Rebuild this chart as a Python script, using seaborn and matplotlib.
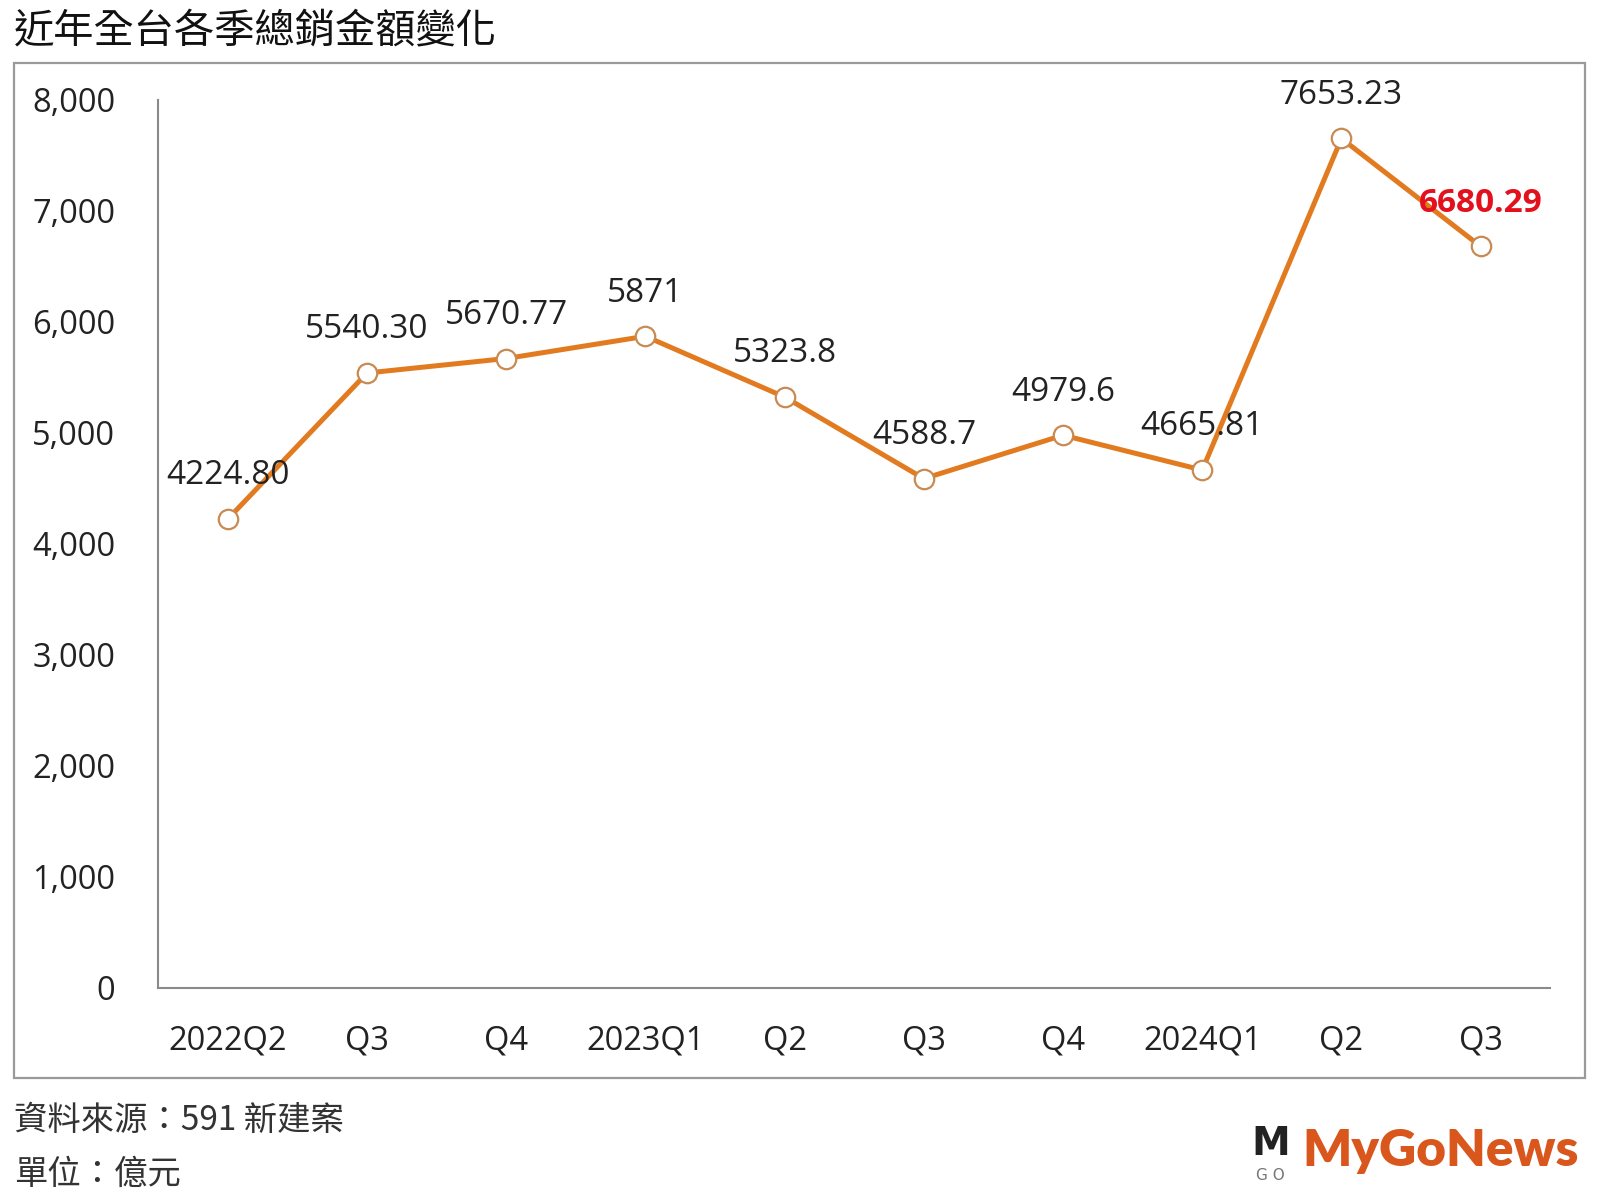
import matplotlib
matplotlib.use("Agg")
import matplotlib.pyplot as plt
import seaborn as sns
import pandas as pd
from matplotlib.patches import Rectangle

categories = ["2022Q2", "Q3", "Q4", "2023Q1", "Q2", "Q3", "Q4", "2024Q1", "Q2", "Q3"]
values = [4224.80, 5540.30, 5670.77, 5871, 5323.8, 4588.7, 4979.6, 4665.81, 7653.23, 6680.29]
value_labels = ["4224.80", "5540.30", "5670.77", "5871", "5323.8", "4588.7", "4979.6", "4665.81", "7653.23", "6680.29"]
yticks = [0, 1000, 2000, 3000, 4000, 5000, 6000, 7000, 8000]
ytick_labels = ["0", "1,000", "2,000", "3,000", "4,000", "5,000", "6,000", "7,000", "8,000"]
title = "近年全台各季總銷金額變化"
source_text = "資料來源：591 新建案"
unit_text = "單位：億元"

sns.set_theme(style="white")
plt.rcParams['font.family'] = ['Open Sans', 'Noto Sans CJK TC', 'DejaVu Sans']

df = pd.DataFrame({"idx": range(len(categories)), "value": values})

fig = plt.figure(figsize=(16, 12), dpi=100)
ax = fig.add_axes([0.0989, 0.1767, 0.870, 0.74])

line_color = "#E27B1F"
sns.lineplot(data=df, x="idx", y="value", ax=ax, color=line_color, linewidth=3.6,
             marker="o", markersize=14, markerfacecolor="white",
             markeredgecolor="#C98A52", markeredgewidth=1.6)

for i, (v, lab) in enumerate(zip(values, value_labels)):
    last = i == len(values) - 1
    ax.annotate(lab, (i, v), xytext=(0, 31), textcoords="offset points",
                ha="center", va="center", fontsize=24,
                color="#E3101E" if last else "#222222",
                fontweight="bold" if last else "normal",
                family=["Open Sans", "DejaVu Sans"])

ax.set_xlim(-0.5, len(categories) - 0.5)
ax.set_ylim(0, 8000)
ax.set_xticks(range(len(categories)))
ax.set_xticklabels(categories, fontsize=23.5, color="#222222")
ax.set_yticks(yticks)
ax.set_yticklabels(ytick_labels, fontsize=23.5, color="#222222")
ax.tick_params(axis="x", length=0, pad=26)
ax.tick_params(axis="y", length=0, pad=31)
ax.set_xlabel("")
ax.set_ylabel("")
ax.grid(False)
for s in ["top", "right"]:
    ax.spines[s].set_visible(False)
for s in ["left", "bottom"]:
    ax.spines[s].set_color("#8a8a8a")
    ax.spines[s].set_linewidth(1.5)

# outer frame
fig.patches.append(Rectangle((0.0089, 0.1017), 0.9817, 0.8458, transform=fig.transFigure,
                             fill=False, edgecolor="#9a9a9a", linewidth=1.6))

fig.text(0.009, 0.974, title, fontsize=29, ha="left", va="center", color="#111111",
         family=["Noto Sans CJK TC", "DejaVu Sans"])
fig.text(0.009, 0.066, source_text, fontsize=24, ha="left", va="center", color="#333333",
         family=["Noto Sans CJK TC", "DejaVu Sans"])
fig.text(0.009, 0.021, unit_text, fontsize=24, ha="left", va="center", color="#333333",
         family=["Noto Sans CJK TC", "DejaVu Sans"])

fig.text(0.987, 0.041, "MyGoNews", fontsize=37, ha="right", va="center", color="#D9561C",
         fontweight="heavy", family=["Lato", "DejaVu Sans"])
fig.text(0.794, 0.047, "M", fontsize=28, ha="center", va="center", color="#222222",
         fontweight="bold", family=["DejaVu Sans"])
fig.text(0.794, 0.020, "G O", fontsize=11, ha="center", va="center", color="#777777",
         family=["DejaVu Sans"])

fig.savefig("out.png", dpi=100, facecolor="white")
